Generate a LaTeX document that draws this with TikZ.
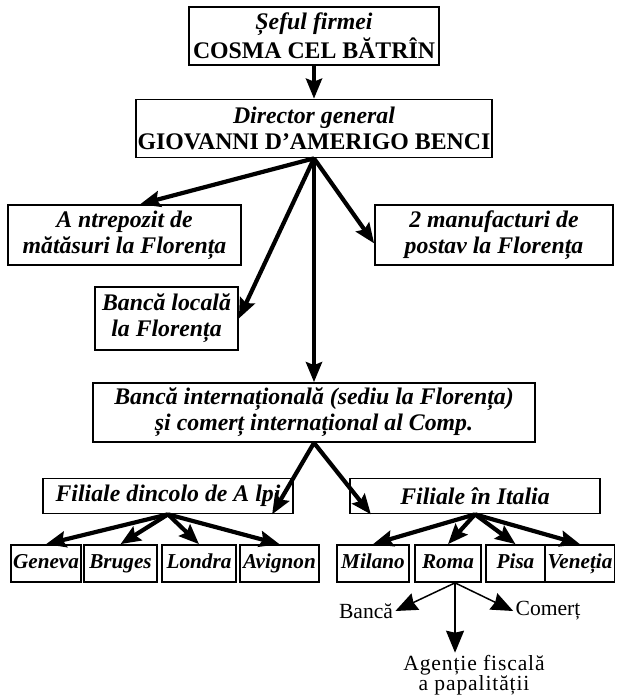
\documentclass[tikz,border=0pt]{standalone}
\usepackage{fontspec}
\setmainfont{Liberation Serif}
\usetikzlibrary{arrows.meta}

\tikzset{
  box/.style={draw, line width=0.85pt, align=center, inner sep=1pt,
    font=\fontsize{11.9}{13}\selectfont\bfseries\itshape},
  twobox/.style={box, minimum height=29pt},
  filbox/.style={box, minimum width=125pt, minimum height=17.5pt},
  leaf/.style={box, font=\fontsize{10.6}{12}\selectfont\bfseries\itshape,
    text height=7.6pt, text depth=2.4pt, minimum height=18.5pt},
  plain/.style={align=center, inner sep=1pt, font=\fontsize{10.8}{10}\selectfont},
  bigarrow/.style={line width=2.1pt, -{Stealth[length=10pt,width=8pt,inset=1.5pt]}},
  thinarrow/.style={line width=0.75pt, -{Stealth[length=11pt,width=9pt,inset=1pt]}},
}

\begin{document}
\begin{tikzpicture}[x=0.5pt, y=-0.5pt]
\useasboundingbox (0,0) rectangle (622,698);
% conducerea
\node[twobox, minimum width=125pt] (sef) at (314,36) {Șeful firmei\\{\upshape COSMA CEL BĂTRÎN}};
\node[twobox, minimum width=175pt] (dir) at (314,128.5) {Director general\\{\upshape GIOVANNI D’AMERIGO BENCI}};
% Florenta
\node[twobox, minimum width=116.5pt, minimum height=30pt] (antr) at (124.5,235) {A ntrepozit de\\mătăsuri la Florența};
\node[twobox, minimum width=119pt, minimum height=30pt] (manuf) at (494,235) {2 manufacturi de\\postav la Florența};
\node[twobox, minimum width=71.5pt, minimum height=31.5pt] (bloc) at (166.5,318.5) {Bancă locală\\la Florența};
\node[twobox, minimum width=221pt, minimum height=29.5pt] (intl) at (314,412.5) {Bancă internațională (sediu la Florența)\\și comerț internațional al Comp.};
% filiale
\node[filbox] (fda) at (168,496) {Filiale dincolo de A lpi};
\node[filbox] (fit) at (475,496) {Filiale în Italia};
\node[leaf, minimum width=34pt] (gen) at (46,563.5) {Geneva};
\node[leaf, minimum width=36.5pt] (bru) at (120.5,563.5) {Bruges};
\node[leaf, minimum width=37pt] (lon) at (199,563.5) {Londra};
\node[leaf, minimum width=39.5pt] (avi) at (279.5,563.5) {Avignon};
\node[leaf, minimum width=36pt] (mil) at (373,563.5) {Milano};
\node[leaf, minimum width=33pt] (roma) at (448,563.5) {Roma};
\node[leaf, minimum width=29.5pt] (pisa) at (515.5,563.5) {Pisa};
\node[leaf, minimum width=32pt] (ven) at (580,563.5) {Veneția};
% Roma
\node[plain] (rbanca) at (366,611) {Bancă};
\node[plain] (rcom) at (548,611) {Comerț};
\node[plain, font=\fontsize{10.8}{10}\selectfont\addfontfeatures{LetterSpace=4}] (ragent) at (474,675) {Agenție fiscală\\a papalității};

\draw[bigarrow] (sef.south) -- (dir.north);
\draw[bigarrow] (dir.south) -- (antr.63);
\draw[bigarrow] (dir.south) -- (bloc.east);
\draw[bigarrow] (dir.south) -- (intl.north);
\draw[bigarrow] (dir.south) -- (manuf.184);
\draw[bigarrow] (intl.south) -- (fda.-10);
\draw[bigarrow] (intl.south) -- (fit.190);
\foreach \leaf in {gen,bru,lon,avi}
  \draw[bigarrow] (fda.south) -- (\leaf.north);
\foreach \leaf in {mil,roma,pisa,ven}
  \draw[bigarrow] (fit.south) -- (\leaf.north);
\draw[thinarrow] (roma.-70) -- (rbanca.east);
\draw[thinarrow] (roma.-70) -- (roma.-70 |- ragent.north);
\draw[thinarrow] (roma.-70) -- (rcom.west);
\end{tikzpicture}
\end{document}
